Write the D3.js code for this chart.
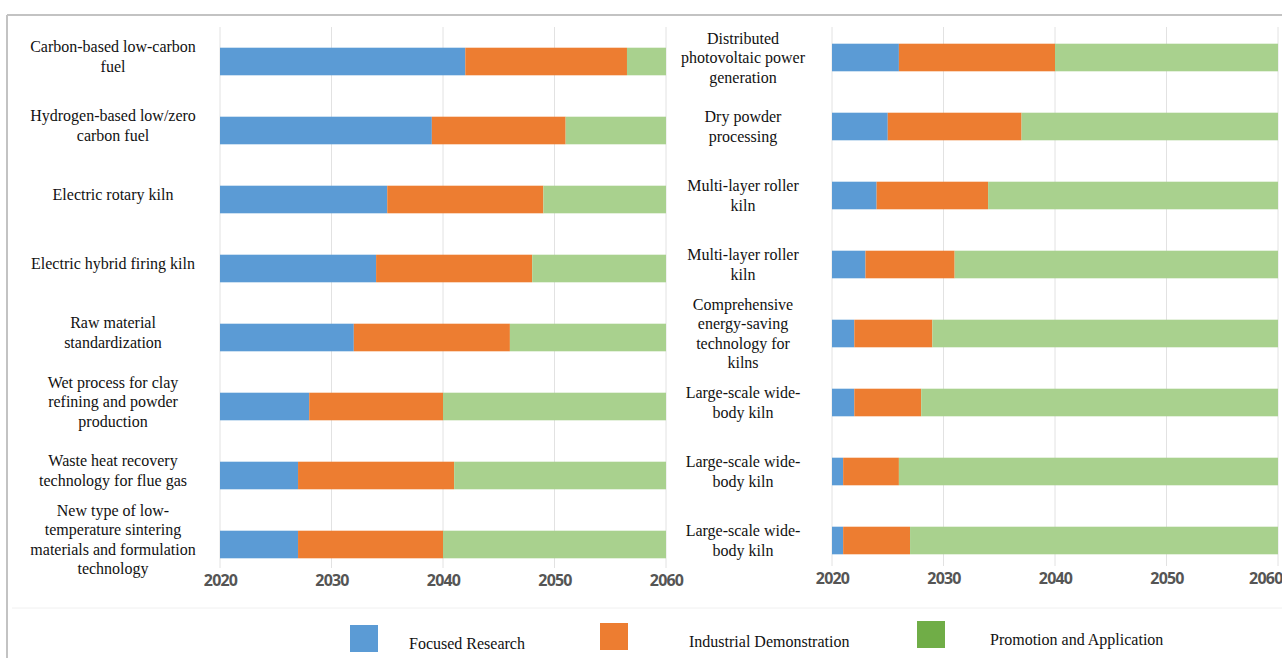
<!DOCTYPE html>
<html>
<head>
<meta charset="utf-8">
<script src="https://cdn.jsdelivr.net/npm/d3@7"></script>
<style>
  body { margin: 0; background: #fff; }
  svg { display: block; }
  .label { font-family: "Liberation Serif", "Times New Roman", serif; font-size: 16px; fill: #111; }
  .tick text { font-family: "Noto Sans", sans-serif; font-size: 16px; font-weight: 700; fill: #555; letter-spacing: -0.8px; }
</style>
</head>
<body>
<svg id="chart" width="1282" height="658"></svg>
<script>
// stage names and colours
const stages = ["Focused Research", "Industrial Demonstration", "Promotion and Application"];
const barColors = ["#5b9bd5", "#ed7d31", "#a9d18e"];
const legendColors = ["#5b9bd5", "#ed7d31", "#70ad47"];

// left panel: technologies (lines split as in the picture)
const leftLabels = [
  ["Carbon-based low-carbon", "fuel"],
  ["Hydrogen-based low/zero", "carbon fuel"],
  ["Electric rotary kiln"],
  ["Electric hybrid firing kiln"],
  ["Raw material", "standardization"],
  ["Wet process for clay", "refining and powder", "production"],
  ["Waste heat recovery", "technology for flue gas"],
  ["New type of low-", "temperature sintering", "materials and formulation", "technology"]
];
// year where focused research ends / industrial demonstration ends
const leftResearchEnd = [2042, 2039, 2035, 2034, 2032, 2028, 2027, 2027];
const leftDemoEnd = [2056.5, 2051, 2049, 2048, 2046, 2040, 2041, 2040];

// right panel
const rightLabels = [
  ["Distributed", "photovoltaic power", "generation"],
  ["Dry powder", "processing"],
  ["Multi-layer roller", "kiln"],
  ["Multi-layer roller", "kiln"],
  ["Comprehensive", "energy-saving", "technology for", "kilns"],
  ["Large-scale wide-", "body kiln"],
  ["Large-scale wide-", "body kiln"],
  ["Large-scale wide-", "body kiln"]
];
const rightResearchEnd = [2026, 2025, 2024, 2023, 2022, 2022, 2021, 2021];
const rightDemoEnd = [2040, 2037, 2034, 2031, 2029, 2028, 2026, 2027];

const startYear = 2020, endYear = 2060;
const yearTicks = [2020, 2030, 2040, 2050, 2060];

const svg = d3.select("#chart");

// outer frame (top and left edges visible in the picture)
svg.append("line").attr("x1", 7).attr("x2", 1282).attr("y1", 15).attr("y2", 15)
  .attr("stroke", "#c3c3c3").attr("stroke-width", 2);
svg.append("line").attr("x1", 7).attr("x2", 7).attr("y1", 15).attr("y2", 658)
  .attr("stroke", "#c3c3c3").attr("stroke-width", 2);
// faint separator above the legend
svg.append("line").attr("x1", 12).attr("x2", 1282).attr("y1", 608).attr("y2", 608)
  .attr("stroke", "#f0f0f0").attr("stroke-width", 1);

function drawPanel(opts) {
  const x = d3.scaleLinear().domain([startYear, endYear]).range([opts.x0, opts.x1]);
  const y = d3.scaleBand().domain(d3.range(opts.labels.length))
    .range([opts.top, opts.top + 69 * opts.labels.length])
    .paddingInner(0.6).paddingOuter(0.3);

  const g = svg.append("g");

  // vertical grid lines
  g.append("g").selectAll("line")
    .data(yearTicks)
    .join("line")
    .attr("x1", d => x(d)).attr("x2", d => x(d))
    .attr("y1", opts.gridTop).attr("y2", opts.gridBottom)
    .attr("stroke", "#e2e2e2").attr("stroke-width", 1);

  // stacked segments: [start, end, stage]
  const rows = opts.labels.map((l, i) => [
    [startYear, opts.research[i], 0],
    [opts.research[i], opts.demo[i], 1],
    [opts.demo[i], endYear, 2]
  ]);

  g.append("g").selectAll("g")
    .data(rows)
    .join("g")
    .attr("transform", (d, i) => `translate(0,${y(i)})`)
    .selectAll("rect")
    .data(d => d)
    .join("rect")
    .attr("x", d => x(d[0]))
    .attr("width", d => x(d[1]) - x(d[0]))
    .attr("height", y.bandwidth())
    .attr("fill", d => barColors[d[2]]);

  // category labels, centred left of the bars
  const lineH = 19.5;
  const lab = g.append("g").selectAll("text")
    .data(opts.labels)
    .join("text")
    .attr("class", "label")
    .attr("text-anchor", "middle")
    .attr("x", opts.labelX)
    .attr("y", (d, i) => y(i) + y.bandwidth() / 2 + opts.labelShift - (d.length - 1) * lineH / 2);
  lab.selectAll("tspan")
    .data(d => d)
    .join("tspan")
    .attr("x", opts.labelX)
    .attr("dy", (d, i) => i === 0 ? "0.35em" : lineH)
    .text(d => d);

  // x axis labels only
  const axis = d3.axisBottom(x).tickValues(yearTicks).tickFormat(d3.format("d")).tickSize(0).tickPadding(0);
  const ax = g.append("g")
    .attr("transform", `translate(0,${opts.axisY})`)
    .call(axis)
    .call(a => a.select(".domain").remove());
  if (opts.lastEnd) {
    // last label hugs the right edge of the figure
    ax.selectAll(".tick").filter(d => d === endYear).select("text")
      .attr("text-anchor", "end").attr("x", 1282 - opts.x1);
  }
}

drawPanel({
  labels: leftLabels, research: leftResearchEnd, demo: leftDemoEnd,
  x0: 220, x1: 666, top: 27, gridTop: 27, gridBottom: 568,
  labelX: 113, labelShift: -5, axisY: 575
});

drawPanel({
  labels: rightLabels, research: rightResearchEnd, demo: rightDemoEnd,
  x0: 832, x1: 1278, top: 23, gridTop: 27, gridBottom: 566,
  labelX: 743, labelShift: 0, axisY: 573, lastEnd: true
});

// legend
const legendX = [350, 600, 917];
const legendTextX = [409, 689, 990];
const legend = svg.append("g");
stages.forEach((s, i) => {
  legend.append("rect")
    .attr("x", legendX[i]).attr("y", 625 - i * 2)
    .attr("width", 28).attr("height", 27)
    .attr("fill", legendColors[i]);
  legend.append("text")
    .attr("class", "label")
    .attr("x", legendTextX[i]).attr("y", 643 - i * 2)
    .attr("dy", "0.35em")
    .text(s);
});
</script>
</body>
</html>
